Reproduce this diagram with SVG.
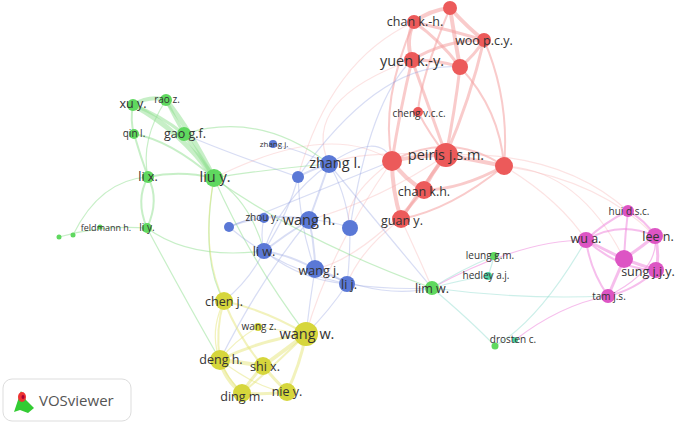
<svg xmlns="http://www.w3.org/2000/svg" width="685" height="427" viewBox="0 0 685 427">
<style>
text{font-family:"Open Sans","DejaVu Sans",sans-serif;fill:#333}
.l{font-size:12.5px}.s{font-size:10px}.b{font-size:14.5px}
#connectors path{fill:none}
.er{stroke:#f4a0a0;stroke-opacity:.55}
.eR{stroke:#f6b0b0;stroke-opacity:.35}
.eg{stroke:#8fe08f;stroke-opacity:.5}
.eb{stroke:#8f9fe0;stroke-opacity:.35}
.ey{stroke:#e6e67a;stroke-opacity:.5}
.ep{stroke:#ee88dd;stroke-opacity:.55}
.et{stroke:#7fd6c8;stroke-opacity:.4}
.r{fill:#ec5a5a}.g{fill:#5fd85f}.bl{fill:#5a78d6}.y{fill:#d6d63c}.p{fill:#dd55c4}.t{fill:#4ccfa0}
</style>
<rect width="685" height="427" fill="#fff"/>
<g id="connectors" stroke-width="1.2">
<path class="er" stroke-width="4" d="M450 8 Q430 10 414 22"/>
<path class="er" stroke-width="4" d="M414 22 Q405 40 412 60"/>
<path class="er" stroke-width="4" d="M450 8 Q470 30 484 40"/>
<path class="er" stroke-width="4" d="M450 8 Q455 40 460 67"/>
<path class="er" stroke-width="3" d="M414 22 Q450 30 484 40"/>
<path class="er" stroke-width="3" d="M412 60 Q440 60 460 67"/>
<path class="er" stroke-width="3" d="M484 40 Q475 55 460 67"/>
<path class="er" stroke-width="3" d="M414 22 Q440 40 460 67"/>
<path class="er" stroke-width="3" d="M412 60 Q445 40 484 40"/>
<path class="er" stroke-width="3" d="M412 60 Q400 110 392 161"/>
<path class="er" stroke-width="3" d="M412 60 Q430 110 446 155"/>
<path class="er" stroke-width="3" d="M460 67 Q455 110 446 155"/>
<path class="er" stroke-width="3" d="M484 40 Q470 100 446 155"/>
<path class="er" stroke-width="2" d="M484 40 Q510 100 504 166"/>
<path class="er" stroke-width="2" d="M460 67 Q500 110 504 166"/>
<path class="er" stroke-width="2" d="M414 22 Q380 100 392 161"/>
<path class="er" stroke-width="2" d="M450 8 Q420 80 418 112"/>
<path class="er" stroke-width="2" d="M418 112 Q430 135 446 155"/>
<path class="er" stroke-width="4" d="M392 161 Q420 155 446 155"/>
<path class="er" stroke-width="4" d="M446 155 Q475 160 504 166"/>
<path class="er" stroke-width="4" d="M446 155 Q430 175 424 190"/>
<path class="er" stroke-width="4" d="M392 161 Q405 180 424 190"/>
<path class="er" stroke-width="4" d="M392 161 Q392 190 401 219"/>
<path class="er" stroke-width="3" d="M424 190 Q410 205 401 219"/>
<path class="er" stroke-width="3" d="M446 155 Q420 190 401 219"/>
<path class="er" stroke-width="3" d="M504 166 Q460 190 424 190"/>
<path class="er" stroke-width="2" d="M504 166 Q450 210 401 219"/>
<path class="er" stroke-width="2" d="M392 161 Q450 130 504 166"/>
<path class="eR" d="M392 161 Q330 120 214 178"/>
<path class="eR" d="M446 155 Q360 150 329 164"/>
<path class="eR" d="M446 155 Q380 200 309 220"/>
<path class="eR" d="M504 166 Q560 200 586 240"/>
<path class="eR" d="M504 166 Q580 170 624 259"/>
<path class="eR" d="M504 166 Q600 180 655 236"/>
<path class="eR" d="M446 155 Q560 150 628 211"/>
<path class="eR" d="M401 219 Q360 250 347 284"/>
<path class="eR" d="M401 219 Q420 260 432 288"/>
<path class="eR" d="M392 161 Q330 250 306 334"/>
<path class="eR" d="M424 190 Q360 260 315 269"/>
<path class="eR" d="M412 60 Q300 100 329 164"/>
<path class="eR" d="M414 22 Q330 60 298 177"/>
<path class="eR" d="M392 161 Q340 200 350 228"/>
<path class="eb" d="M298 177 Q380 60 460 67"/>
<path class="eb" d="M350 228 Q370 100 412 60"/>
<path class="eb" d="M329 164 Q380 130 392 161"/>
<path class="eb" d="M229 227 Q320 190 392 161"/>
<path class="eg" stroke-width="4" d="M133 105 Q150 95 166 100"/>
<path class="eg" stroke-width="5" d="M166 100 Q190 130 214 178"/>
<path class="eg" stroke-width="5" d="M133 105 Q180 130 214 178"/>
<path class="eg" stroke-width="4" d="M184 134 Q200 155 214 178"/>
<path class="eg" stroke-width="3" d="M166 100 Q175 118 184 134"/>
<path class="eg" stroke-width="3" d="M133 105 Q160 115 184 134"/>
<path class="eg" stroke-width="2" d="M133 105 Q130 120 134 134"/>
<path class="eg" stroke-width="2" d="M134 134 Q140 155 148 177"/>
<path class="eg" stroke-width="2" d="M148 177 Q180 170 214 178"/>
<path class="eg" stroke-width="2" d="M148 177 Q135 200 147 228"/>
<path class="eg" stroke-width="2" d="M148 177 Q160 200 147 228"/>
<path class="eg" stroke-width="2" d="M134 134 Q170 140 214 178"/>
<path class="eg" d="M166 100 Q140 140 148 177"/>
<path class="eg" d="M59 237 Q100 225 147 228"/>
<path class="eg" d="M73 235 Q100 180 148 177"/>
<path class="eg" d="M147 228 Q190 260 264 251"/>
<path class="eg" d="M214 178 Q200 260 224 301"/>
<path class="eg" d="M214 178 Q250 260 306 334"/>
<path class="eg" d="M214 178 Q260 170 329 164"/>
<path class="eg" d="M184 134 Q260 110 329 164"/>
<path class="eg" d="M214 178 Q250 200 264 251"/>
<path class="eg" d="M214 178 Q300 240 432 288"/>
<path class="eg" d="M147 228 Q180 290 220 360"/>
<path class="eb" stroke-width="2" d="M329 164 Q320 190 309 220"/>
<path class="eb" stroke-width="2" d="M298 177 Q310 170 329 164"/>
<path class="eb" stroke-width="2" d="M309 220 Q285 235 264 251"/>
<path class="eb" stroke-width="2" d="M309 220 Q315 245 315 269"/>
<path class="eb" stroke-width="2" d="M315 269 Q335 275 347 284"/>
<path class="eb" stroke-width="2" d="M264 251 Q290 255 315 269"/>
<path class="eb" stroke-width="2" d="M264 218 Q285 215 309 220"/>
<path class="eb" stroke-width="2" d="M229 227 Q245 220 264 218"/>
<path class="eb" d="M350 228 Q330 220 309 220"/>
<path class="eb" d="M350 228 Q350 260 347 284"/>
<path class="eb" d="M329 164 Q345 190 350 228"/>
<path class="eb" d="M298 177 Q290 210 264 251"/>
<path class="eb" d="M273 144 Q300 150 329 164"/>
<path class="eb" d="M264 218 Q260 235 264 251"/>
<path class="eb" d="M329 164 Q280 200 264 251"/>
<path class="eb" d="M298 177 Q300 230 315 269"/>
<path class="eb" d="M264 251 Q300 280 347 284"/>
<path class="eb" d="M229 227 Q280 270 347 284"/>
<path class="eb" d="M347 284 Q390 290 432 288"/>
<path class="eb" d="M315 269 Q380 300 432 288"/>
<path class="eb" d="M264 251 Q250 280 224 301"/>
<path class="eb" d="M315 269 Q310 300 306 334"/>
<path class="eb" d="M347 284 Q330 310 306 334"/>
<path class="eb" d="M309 220 Q260 280 220 360"/>
<path class="eb" d="M329 164 Q400 250 432 288"/>
<path class="eb" d="M298 177 Q220 150 184 134"/>
<path class="ey" stroke-width="4" d="M306 334 Q285 350 263 366"/>
<path class="ey" stroke-width="4" d="M220 360 Q240 362 263 366"/>
<path class="ey" stroke-width="4" d="M220 360 Q225 380 242 393"/>
<path class="ey" stroke-width="3" d="M263 366 Q250 380 242 393"/>
<path class="ey" stroke-width="3" d="M242 393 Q265 395 287 392"/>
<path class="ey" stroke-width="3" d="M263 366 Q275 380 287 392"/>
<path class="ey" stroke-width="3" d="M306 334 Q300 365 287 392"/>
<path class="ey" stroke-width="3" d="M306 334 Q260 340 220 360"/>
<path class="ey" stroke-width="2" d="M306 334 Q270 370 242 393"/>
<path class="ey" stroke-width="2" d="M224 301 Q215 330 220 360"/>
<path class="ey" stroke-width="2" d="M224 301 Q240 340 263 366"/>
<path class="ey" stroke-width="2" d="M224 301 Q265 310 306 334"/>
<path class="ey" d="M224 301 Q200 350 242 393"/>
<path class="ey" d="M258 327 Q280 330 306 334"/>
<path class="ey" d="M258 327 Q235 340 220 360"/>
<path class="ey" d="M220 360 Q260 390 287 392"/>
<path class="ey" d="M224 301 Q200 250 214 178"/>
<path class="ep" stroke-width="3" d="M586 240 Q605 250 624 259"/>
<path class="ep" stroke-width="3" d="M624 259 Q640 248 655 236"/>
<path class="ep" stroke-width="3" d="M624 259 Q640 265 656 270"/>
<path class="ep" stroke-width="3" d="M624 259 Q615 280 608 296"/>
<path class="ep" stroke-width="3" d="M655 236 Q660 255 656 270"/>
<path class="ep" stroke-width="2" d="M628 211 Q645 220 655 236"/>
<path class="ep" stroke-width="2" d="M586 240 Q605 222 628 211"/>
<path class="ep" stroke-width="2" d="M628 211 Q625 235 624 259"/>
<path class="ep" stroke-width="2" d="M586 240 Q620 220 655 236"/>
<path class="ep" stroke-width="2" d="M586 240 Q620 270 656 270"/>
<path class="ep" stroke-width="2" d="M608 296 Q635 290 656 270"/>
<path class="ep" stroke-width="2" d="M586 240 Q590 270 608 296"/>
<path class="ep" d="M608 296 Q660 270 655 236"/>
<path class="ep" d="M608 296 Q560 305 515 340"/>
<path class="ep" d="M586 240 Q520 240 432 288"/>
<path class="et" d="M432 288 Q460 270 494 256"/>
<path class="et" d="M432 288 Q460 280 488 276"/>
<path class="et" d="M432 288 Q470 320 495 346"/>
<path class="et" d="M488 276 Q492 265 494 256"/>
<path class="et" d="M495 346 Q540 320 586 240"/>
<path class="et" d="M432 288 Q520 300 608 296"/>
</g>
<g id="n-top"><circle class="r" cx="450" cy="8" r="7"/></g>
<g id="n-chankh1"><circle class="r" cx="414" cy="22" r="7"/><text class="l" x="415" y="26" text-anchor="middle">chan k.-h.</text></g>
<g id="n-woo"><circle class="r" cx="484" cy="40" r="7"/><text class="l" x="484" y="45" text-anchor="middle">woo p.c.y.</text></g>
<g id="n-yuen"><circle class="r" cx="412" cy="60" r="8"/><text class="b" x="412" y="66" text-anchor="middle">yuen k.-y.</text></g>
<g id="n-r2"><circle class="r" cx="460" cy="67" r="8"/></g>
<g id="n-cheng"><circle class="r" cx="418" cy="112" r="5"/><text class="s" x="419" y="117" text-anchor="middle">cheng v.c.c.</text></g>
<g id="n-r3"><circle class="r" cx="392" cy="161" r="10"/></g>
<g id="n-peiris"><circle class="r" cx="446" cy="155" r="12"/><text class="b" x="446" y="160" text-anchor="middle">peiris j.s.m.</text></g>
<g id="n-r4"><circle class="r" cx="504" cy="166" r="9"/></g>
<g id="n-chankh"><circle class="r" cx="424" cy="190" r="9"/><text class="l" x="424" y="196" text-anchor="middle">chan k.h.</text></g>
<g id="n-guan"><circle class="r" cx="401" cy="219" r="9"/><text class="l" x="402" y="225" text-anchor="middle">guan y.</text></g>
<g id="n-xuy"><circle class="g" cx="133" cy="105" r="6"/><text class="l" x="133" y="108" text-anchor="middle">xu y.</text></g>
<g id="n-rao"><circle class="g" cx="166" cy="100" r="6"/><text class="s" x="167" y="103" text-anchor="middle">rao z.</text></g>
<g id="n-qin"><circle class="g" cx="134" cy="134" r="5"/><text class="s" x="134" y="137" text-anchor="middle">qin l.</text></g>
<g id="n-gao"><circle class="g" cx="184" cy="134" r="7"/><text class="l" x="185" y="138" text-anchor="middle">gao g.f.</text></g>
<g id="n-lix"><circle class="g" cx="148" cy="177" r="6"/><text class="l" x="148" y="181" text-anchor="middle">li x.</text></g>
<g id="n-liuy"><circle class="g" cx="214" cy="178" r="9"/><text class="b" x="215" y="182" text-anchor="middle">liu y.</text></g>
<g id="n-liy"><circle class="g" cx="147" cy="228" r="5"/><text class="s" x="147" y="231" text-anchor="middle">li y.</text></g>
<g id="n-feld"><circle class="g" cx="100" cy="227" r="2.5"/><circle class="g" cx="59" cy="237" r="2.5"/><circle class="g" cx="73" cy="235" r="2.5"/><text x="106" y="231" text-anchor="middle" style="font-size:9px">feldmann h.</text></g>
<g id="n-zhangj"><circle class="bl" cx="273" cy="144" r="4"/><text x="274" y="147" text-anchor="middle" style="font-size:8px">zhang j.</text></g>
<g id="n-zhangl"><circle class="bl" cx="329" cy="164" r="9"/><text class="b" x="335" y="168" text-anchor="middle">zhang l.</text></g>
<g id="n-b1"><circle class="bl" cx="298" cy="177" r="6"/></g>
<g id="n-b2"><circle class="bl" cx="229" cy="227" r="5"/></g>
<g id="n-zhouy"><circle class="bl" cx="264" cy="218" r="5"/><text class="s" x="262" y="221" text-anchor="middle">zhou y.</text></g>
<g id="n-wangh"><circle class="bl" cx="309" cy="220" r="9"/><text class="b" x="309" y="225" text-anchor="middle">wang h.</text></g>
<g id="n-b3"><circle class="bl" cx="350" cy="228" r="8"/></g>
<g id="n-liw"><circle class="bl" cx="264" cy="251" r="8"/><text class="l" x="264" y="256" text-anchor="middle">li w.</text></g>
<g id="n-wangj"><circle class="bl" cx="315" cy="269" r="9"/><text class="l" x="319" y="275" text-anchor="middle">wang j.</text></g>
<g id="n-lij"><circle class="bl" cx="347" cy="284" r="8"/><text class="l" x="349" y="289" text-anchor="middle">li j.</text></g>
<g id="n-limw"><circle class="g" cx="432" cy="288" r="7"/><text class="l" x="432" y="293" text-anchor="middle">lim w.</text></g>
<g id="n-leung"><circle class="g" cx="494" cy="256" r="4"/><text class="s" x="490" y="259" text-anchor="middle">leung g.m.</text></g>
<g id="n-hedley"><circle class="t" cx="488" cy="276" r="4"/><text class="s" x="486" y="279" text-anchor="middle">hedley a.j.</text></g>
<g id="n-drosten"><circle class="g" cx="495" cy="346" r="3.5"/><circle class="t" cx="515" cy="340" r="3"/><text class="s" x="513" y="343" text-anchor="middle">drosten c.</text></g>
<g id="n-chenj"><circle class="y" cx="224" cy="301" r="9"/><text class="l" x="224" y="306" text-anchor="middle">chen j.</text></g>
<g id="n-wangz"><circle class="y" cx="258" cy="327" r="4"/><text class="s" x="259" y="330" text-anchor="middle">wang z.</text></g>
<g id="n-wangw"><circle class="y" cx="306" cy="334" r="12"/><text class="b" x="307" y="339" text-anchor="middle">wang w.</text></g>
<g id="n-deng"><circle class="y" cx="220" cy="360" r="10"/><text class="l" x="221" y="364" text-anchor="middle">deng h.</text></g>
<g id="n-shi"><circle class="y" cx="263" cy="366" r="9"/><text class="l" x="265" y="371" text-anchor="middle">shi x.</text></g>
<g id="n-ding"><circle class="y" cx="242" cy="393" r="9"/><text class="l" x="242" y="401" text-anchor="middle">ding m.</text></g>
<g id="n-nie"><circle class="y" cx="287" cy="392" r="9"/><text class="l" x="287" y="396" text-anchor="middle">nie y.</text></g>
<g id="n-hui"><circle class="p" cx="628" cy="211" r="6"/><text class="s" x="629" y="215" text-anchor="middle">hui d.s.c.</text></g>
<g id="n-wua"><circle class="p" cx="586" cy="240" r="8"/><text class="l" x="586" y="243" text-anchor="middle">wu a.</text></g>
<g id="n-lee"><circle class="p" cx="655" cy="236" r="8"/><text class="l" x="658" y="241" text-anchor="middle">lee n.</text></g>
<g id="n-p1"><circle class="p" cx="624" cy="259" r="9"/></g>
<g id="n-sung"><circle class="p" cx="656" cy="270" r="8"/><text class="l" x="648" y="276" text-anchor="middle">sung j.j.y.</text></g>
<g id="n-tam"><circle class="p" cx="608" cy="296" r="7"/><text class="s" x="609" y="300" text-anchor="middle">tam j.s.</text></g>
<g id="logo">
<rect x="3" y="379" width="128" height="42" rx="9" fill="#fff" stroke="#ddd"/>
<polygon points="14,412 21,391 26,400 34,408 28,413 20,410" fill="#3c3"/><ellipse cx="22" cy="397" rx="4" ry="5" fill="#e33"/><ellipse cx="23" cy="397" rx="1.5" ry="2" fill="#a03"/>
<text x="39" y="406" style="font-size:15px;fill:#555">VOSviewer</text>
</g>
</svg>
